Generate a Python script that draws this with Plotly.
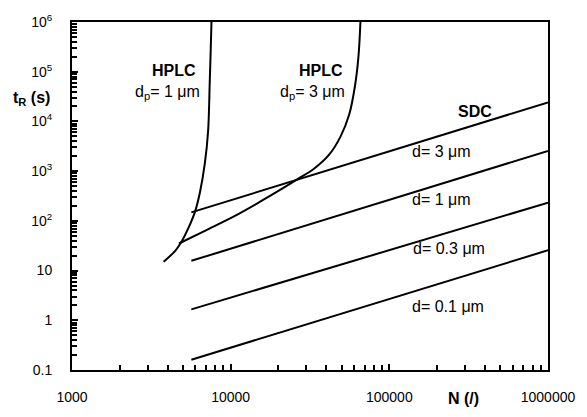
import plotly.graph_objects as go

# ---- data ----
hplc1_N = [3780, 4500, 4940, 5430, 5970, 6410, 6880, 7210, 7380, 7480, 7570]
hplc1_t = [15, 25.6, 40, 73, 155, 380, 1460, 6500, 61000, 254000, 1.0e6]

hplc3_N = [4720, 6880, 11090, 17700, 26430, 33500, 41470, 49150, 55850, 60800, 63900, 65730]
hplc3_t = [35, 63, 135, 317, 689, 1114, 2090, 4900, 13740, 52800, 203000, 1.0e6]

sdc_N = [5650, 1.0e6]
sdc_d3 = [148, 24100]
sdc_d1 = [15.7, 2550]
sdc_d03 = [1.66, 232]
sdc_d01 = [0.161, 25.6]

x_ticks = [1000, 10000, 100000, 1000000]
x_ticktext = ["1000", "10000", "100000", "1000000"]
y_ticks = [0.1, 1, 10, 100, 1e3, 1e4, 1e5, 1e6]
y_ticktext = ["0.1", "1", "10", "10<sup>2</sup>", "10<sup>3</sup>",
              "10<sup>4</sup>", "10<sup>5</sup>", "10<sup>6</sup>"]

minor_x = [k * 10 ** e for e in range(3, 6) for k in range(2, 10)]
minor_y = [k * 10 ** e for e in range(-1, 6) for k in range(2, 10)]

FONT = "Liberation Sans, Arial, sans-serif"
line = dict(color="black", width=2)

fig = go.Figure()
for xs, ys in [(hplc1_N, hplc1_t), (hplc3_N, hplc3_t)]:
    fig.add_trace(go.Scatter(x=xs, y=ys, mode="lines",
                             line=dict(color="black", width=2, shape="spline", smoothing=1.0),
                             showlegend=False, hoverinfo="skip"))
for ys in [sdc_d3, sdc_d1, sdc_d03]:
    fig.add_trace(go.Scatter(x=sdc_N, y=ys, mode="lines", line=line,
                             showlegend=False, hoverinfo="skip"))
fig.add_trace(go.Scatter(x=sdc_N, y=sdc_d01, mode="lines", line=line,
                         xaxis="x2", yaxis="y2", showlegend=False, hoverinfo="skip"))

axis_common = dict(
    type="log", showgrid=False, zeroline=False,
    showline=True, mirror=True, linecolor="black", linewidth=2,
    ticks="inside", ticklen=6, tickwidth=2, tickcolor="black",
    tickmode="array",
    tickfont=dict(family=FONT, size=14, color="black"),
)

minor_common = dict(
    type="log", showgrid=False, zeroline=False, showline=False,
    ticks="inside", ticklen=5, tickwidth=1.6, tickcolor="black",
    tickmode="array", showticklabels=False,
)

fig.update_layout(
    xaxis=dict(**axis_common, range=[3, 6], tickvals=x_ticks, ticktext=x_ticktext,
               ticklabelstandoff=13),
    yaxis=dict(**axis_common, range=[-1, 6], tickvals=y_ticks, ticktext=y_ticktext,
               ticklabelstandoff=15),
    xaxis2=dict(**minor_common, range=[3, 6], tickvals=minor_x,
                overlaying="x", side="bottom", anchor="y2"),
    yaxis2=dict(**minor_common, range=[-1, 6], tickvals=minor_y,
                overlaying="y", side="left", anchor="x2"),
)

def ann(text, x, y, xanchor="left", bold=False, size=16):
    if bold:
        text = "<b>" + text + "</b>"
    fig.add_annotation(text=text, x=x, y=y, xref="paper", yref="paper",
                       xanchor=xanchor, yanchor="middle", showarrow=False,
                       font=dict(family=FONT, size=size, color="black"))

ann("HPLC", 0.265, 0.861, "right", bold=True)
ann("d<sub>p</sub>= 1 μm", 0.273, 0.797, "right")
ann("HPLC", 0.573, 0.861, "right", bold=True)
ann("d<sub>p</sub>= 3 μm", 0.577, 0.797, "right")
ann("SDC", 0.846, 0.742, "center", bold=True)
ann("d= 3 μm", 0.7105, 0.628)
ann("d= 1 μm", 0.7105, 0.489)
ann("d= 0.3 μm", 0.7125, 0.350)
ann("d= 0.1 μm", 0.7105, 0.183)
ann("t<sub>R</sub> (s)", -0.086, 0.781, "center", bold=True)
ann("N (/)", 0.823, -0.083, "center", bold=True)

fig.update_layout(
    width=587, height=417,
    margin=dict(l=72, r=28, t=19, b=38),
    paper_bgcolor="white", plot_bgcolor="white",
    font=dict(family=FONT, color="black"),
)

fig.write_html("out.html")
